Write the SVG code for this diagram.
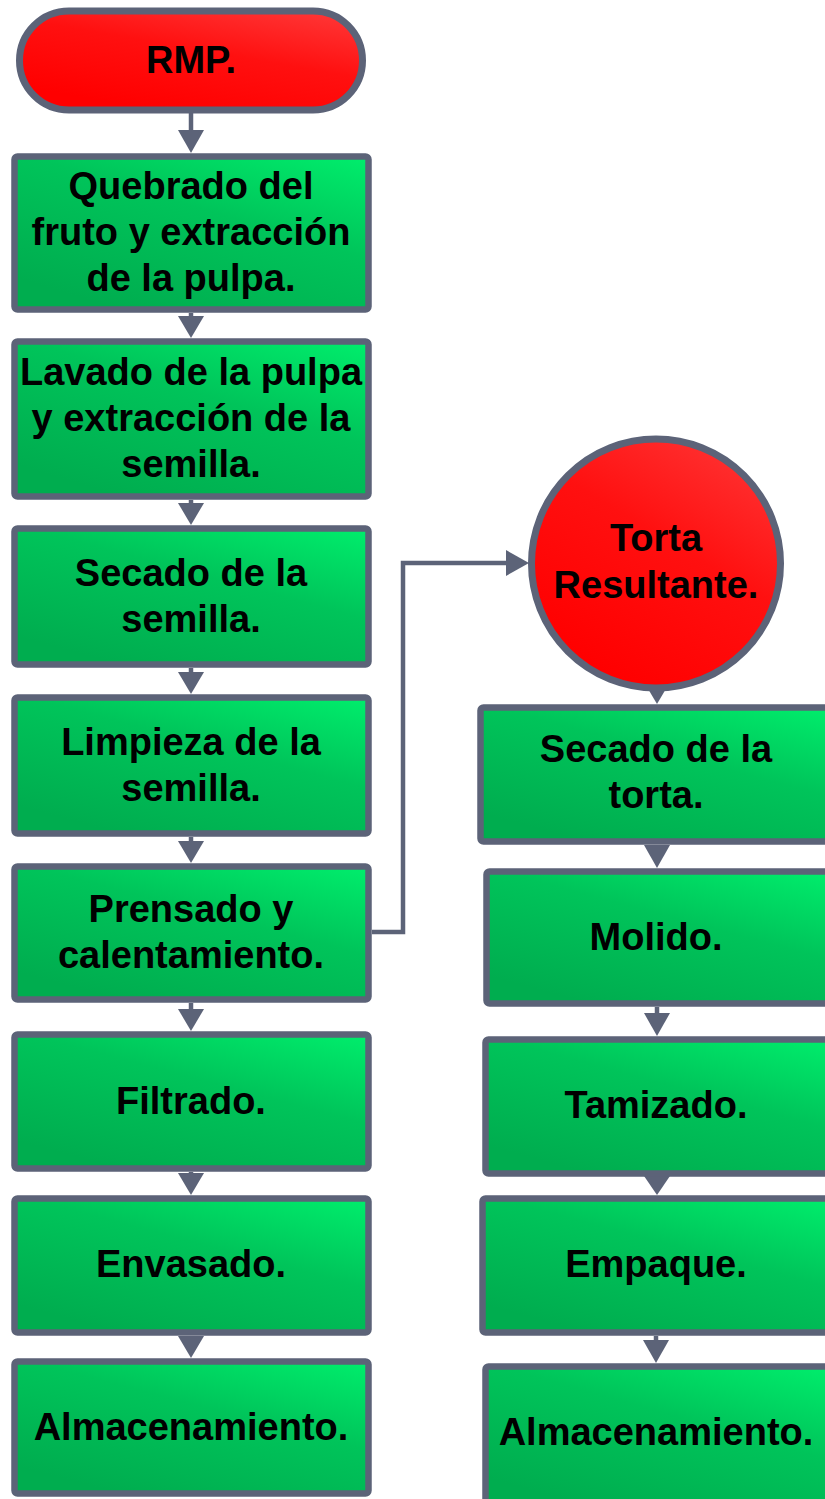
<svg xmlns="http://www.w3.org/2000/svg" width="825" height="1499" viewBox="0 0 825 1499">
<defs>
<linearGradient id="gGreen" x1="1" y1="0" x2="0.3" y2="1">
<stop offset="0" stop-color="#00ee6c"/>
<stop offset="0.45" stop-color="#00c45a"/>
<stop offset="1" stop-color="#00ad4f"/>
</linearGradient>
<linearGradient id="gRed" x1="1" y1="0" x2="0.4" y2="1">
<stop offset="0" stop-color="#ff3a3a"/>
<stop offset="0.5" stop-color="#ff1010"/>
<stop offset="1" stop-color="#ff0000"/>
</linearGradient>
<style>
.box{fill:url(#gGreen);stroke:#5c6378;stroke-width:6.5;stroke-linejoin:round}
.red{fill:url(#gRed);stroke:#5c6378;stroke-width:7}
.t{font-family:"Liberation Sans",Arial,sans-serif;font-weight:bold;font-size:38px;fill:#000;text-anchor:middle}
.ln{fill:none;stroke:#5c6378;stroke-width:4.5}
.hd{fill:#5c6378}
</style>
</defs>
<g id="connectors">
<line class="ln" x1="191" y1="113" x2="191" y2="131"/><polygon class="hd" points="178,130 204,130 191,153"/>
<line class="ln" x1="191" y1="313" x2="191" y2="318"/><polygon class="hd" points="178,316 204,316 191,338"/>
<line class="ln" x1="191" y1="500" x2="191" y2="505"/><polygon class="hd" points="178,503 204,503 191,525"/>
<line class="ln" x1="191" y1="668" x2="191" y2="674"/><polygon class="hd" points="178,672 204,672 191,694"/>
<line class="ln" x1="191" y1="837" x2="191" y2="843"/><polygon class="hd" points="178,841 204,841 191,863"/>
<line class="ln" x1="191" y1="1003" x2="191" y2="1011"/><polygon class="hd" points="178,1009 204,1009 191,1031"/>
<line class="ln" x1="191" y1="1172" x2="191" y2="1175"/><polygon class="hd" points="178,1173 204,1173 191,1195"/>
<line class="ln" x1="191" y1="1336" x2="191" y2="1338"/><polygon class="hd" points="178,1336 204,1336 191,1358"/>
<polyline class="ln" points="372,932 403,932 403,563 510,563"/><polygon class="hd" points="506,550 506,576 529,563"/>
<polygon class="hd" points="644,682 670,682 657,704"/>
<polygon class="hd" points="644,845 670,845 657,868"/>
<line class="ln" x1="657" y1="1007" x2="657" y2="1016"/><polygon class="hd" points="644,1013 670,1013 657,1036"/>
<polygon class="hd" points="644,1176 670,1176 657,1195"/>
<line class="ln" x1="656" y1="1336" x2="656" y2="1343"/><polygon class="hd" points="643,1340 669,1340 656,1363"/>
</g>
<g id="n-rmp">
<rect class="red" x="19.5" y="11" width="343" height="99" rx="49.5"/>
<text class="t" x="191" y="73">RMP.</text>
</g>
<g id="n-quebrado">
<rect class="box" x="14.5" y="156.5" width="354" height="153" rx="3"/>
<text class="t"><tspan x="191" y="199">Quebrado del</tspan><tspan x="191" y="245">fruto y extracción</tspan><tspan x="191" y="291">de la pulpa.</tspan></text>
</g>
<g id="n-lavado">
<rect class="box" x="14.5" y="341.5" width="354" height="155" rx="3"/>
<text class="t"><tspan x="191" y="385">Lavado de la pulpa</tspan><tspan x="191" y="431">y extracción de la</tspan><tspan x="191" y="477">semilla.</tspan></text>
</g>
<g id="n-secado">
<rect class="box" x="14.5" y="528.5" width="354" height="136" rx="3"/>
<text class="t"><tspan x="191" y="586">Secado de la</tspan><tspan x="191" y="632">semilla.</tspan></text>
</g>
<g id="n-limpieza">
<rect class="box" x="14.5" y="697.5" width="354" height="136" rx="3"/>
<text class="t"><tspan x="191" y="755">Limpieza de la</tspan><tspan x="191" y="801">semilla.</tspan></text>
</g>
<g id="n-prensado">
<rect class="box" x="14.5" y="866.5" width="354" height="133" rx="3"/>
<text class="t"><tspan x="191" y="922">Prensado y</tspan><tspan x="191" y="968">calentamiento.</tspan></text>
</g>
<g id="n-filtrado">
<rect class="box" x="14.5" y="1034.5" width="354" height="134" rx="3"/>
<text class="t" x="191" y="1114">Filtrado.</text>
</g>
<g id="n-envasado">
<rect class="box" x="14.5" y="1198.5" width="354" height="134" rx="3"/>
<text class="t" x="191" y="1277">Envasado.</text>
</g>
<g id="n-almacen1">
<rect class="box" x="14.5" y="1361.5" width="354" height="132" rx="3"/>
<text class="t" x="191" y="1440">Almacenamiento.</text>
</g>
<g id="n-torta">
<circle class="red" cx="656" cy="563.5" r="124.5"/>
<text class="t"><tspan x="656" y="551">Torta</tspan><tspan x="656" y="598">Resultante.</tspan></text>
</g>
<g id="n-secado-torta">
<rect class="box" x="480.5" y="707.5" width="352" height="134" rx="3"/>
<text class="t"><tspan x="656" y="762">Secado de la</tspan><tspan x="656" y="808">torta.</tspan></text>
</g>
<g id="n-molido">
<rect class="box" x="486.5" y="871.5" width="344" height="132" rx="3"/>
<text class="t" x="656" y="950">Molido.</text>
</g>
<g id="n-tamizado">
<rect class="box" x="485.5" y="1039.5" width="346" height="134" rx="3"/>
<text class="t" x="656" y="1118">Tamizado.</text>
</g>
<g id="n-empaque">
<rect class="box" x="482.5" y="1198.5" width="350" height="134" rx="3"/>
<text class="t" x="656" y="1277">Empaque.</text>
</g>
<g id="n-almacen2">
<rect class="box" x="485.5" y="1366.5" width="346" height="140" rx="3"/>
<text class="t" x="656" y="1445">Almacenamiento.</text>
</g>
</svg>
